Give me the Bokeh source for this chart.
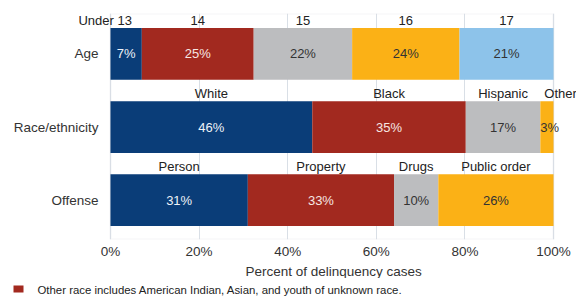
from bokeh.plotting import figure
from bokeh.models import (ColumnDataSource, LabelSet, FixedTicker, Range1d, Title, BoxAnnotation)
from bokeh.layouts import column
from bokeh.embed import file_html
from bokeh.resources import INLINE
from bokeh.core.properties import value

# ---------------- data ----------------
groups = ["Age", "Race/ethnicity", "Offense"]

age_labels = ["Under 13", "14", "15", "16", "17"]
age_values = [7, 25, 22, 24, 21]

race_labels = ["White", "Black", "Hispanic", "Other"]
race_values = [46, 35, 17, 3]

offense_labels = ["Person", "Property", "Drugs", "Public order"]
offense_values = [31, 33, 10, 26]

x_ticks = [0, 20, 40, 60, 80, 100]
x_tick_labels = ["0%", "20%", "40%", "60%", "80%", "100%"]
x_axis_title = "Percent of delinquency cases"
footnote = "Other race includes American Indian, Asian, and youth of unknown race."

# ---------------- style ----------------
palette = ["#0a3d78", "#a2291f", "#bcbdbf", "#fbb116", "#8dc3ea"]
text_on = ["#eef2f7", "#f6e6e2", "#333333", "#333333", "#333333"]
FONT = "Liberation Sans"
GRID = "#d9dfe6"
FS = "13px"
label_shift = {"Under 13": -21}

series = [(age_labels, age_values), (race_labels, race_values), (offense_labels, offense_values)]
ypos = {g: len(groups) - 1 - i for i, g in enumerate(groups)}

bars = dict(y=[], left=[], right=[], color=[])
cen = dict(x=[], y=[], ly=[], pct=[], name=[], tcolor=[], dx=[])
lft = dict(x=[], y=[], ly=[], pct=[], name=[])
for g, (labs, vals) in zip(groups, series):
    total = float(sum(vals))
    cum = 0
    for i, (lab, v) in enumerate(zip(labs, vals)):
        left = cum * 100.0 / total
        cum += v
        right = cum * 100.0 / total
        y = ypos[g]
        bars["y"].append(y); bars["left"].append(left); bars["right"].append(right)
        bars["color"].append(palette[i])
        if right - left < 5:
            lft["x"].append(left); lft["y"].append(y); lft["ly"].append(y + 0.455)
            lft["pct"].append(f"{v}%"); lft["name"].append(lab)
        else:
            cen["x"].append((left + right) / 2); cen["y"].append(y); cen["ly"].append(y + 0.455)
            cen["pct"].append(f"{v}%"); cen["name"].append(lab)
            cen["tcolor"].append(text_on[i]); cen["dx"].append(label_shift.get(lab, 0))

grp = dict(x=[0] * len(groups), y=[ypos[g] for g in groups], name=groups)

# frame spans the full width so in-row texts are not clipped; the 0..100 box sits at px 110..553
p = figure(width=576, height=278, x_range=Range1d(-24.83, 105.19), y_range=Range1d(-0.537, 2.551),
           output_backend="svg", toolbar_location=None,
           min_border_left=0, min_border_right=0, min_border_top=13, min_border_bottom=38)

p.hbar(y="y", left="left", right="right", height=0.707, color="color", line_color=None,
       source=ColumnDataSource(bars))

# box outline (top/bottom) for the 0..100 plotting area
p.add_layout(BoxAnnotation(left=0, right=100, fill_alpha=0, line_color=GRID, line_width=2,
                           level="underlay"))

src_c = ColumnDataSource(cen)
src_l = ColumnDataSource(lft)
p.add_layout(LabelSet(x="x", y="y", text="pct", source=src_c, text_align="center",
                      text_baseline="middle", text_font=value(FONT), text_font_size=FS,
                      text_color="tcolor"))
p.add_layout(LabelSet(x="x", y="ly", text="name", source=src_c, text_align="center",
                      x_offset="dx", text_baseline="middle", text_font=value(FONT),
                      text_font_size=FS, text_color="#222222"))
p.add_layout(LabelSet(x="x", y="y", text="pct", source=src_l, text_align="left", x_offset=0,
                      text_baseline="middle", text_font=value(FONT), text_font_size=FS,
                      text_color="#333333"))
p.add_layout(LabelSet(x="x", y="ly", text="name", source=src_l, text_align="left", x_offset=4,
                      text_baseline="middle", text_font=value(FONT), text_font_size=FS,
                      text_color="#222222"))
# group (row) labels
p.add_layout(LabelSet(x="x", y="y", text="name", source=ColumnDataSource(grp), text_align="right",
                      x_offset=-12, text_baseline="middle", text_font=value(FONT),
                      text_font_size="13.5px", text_color="#333333"))

# x axis
p.xaxis.ticker = FixedTicker(ticks=x_ticks)
p.xaxis.major_label_overrides = {t: l for t, l in zip(x_ticks, x_tick_labels)}
p.xaxis.axis_line_color = None
p.xaxis.major_tick_line_color = None
p.xaxis.minor_tick_line_color = None
p.xaxis.major_tick_out = 0
p.xaxis.major_tick_in = 0
p.xaxis.major_label_standoff = 4
p.xaxis.major_label_text_font = FONT
p.xaxis.major_label_text_font_size = "13.5px"
p.xaxis.major_label_text_color = "#333333"
p.yaxis.visible = False

p.add_layout(Title(text=x_axis_title, align="left", offset=245, standoff=0,
                   text_font=FONT, text_font_size="13.5px", text_font_style="normal",
                   text_color="#333333"), "below")

p.xgrid.ticker = FixedTicker(ticks=x_ticks)
p.xgrid.grid_line_color = GRID
p.ygrid.grid_line_color = None
p.outline_line_color = None
p.background_fill_color = "white"
p.border_fill_color = "white"

# footnote strip (pixel-mapped ranges)
note = figure(width=576, height=18, x_range=Range1d(0, 576), y_range=Range1d(18, 0),
              output_backend="svg", toolbar_location=None,
              min_border_left=0, min_border_right=0, min_border_top=0, min_border_bottom=0)
note.axis.visible = False
note.grid.grid_line_color = None
note.outline_line_color = None
note.rect(x=[18], y=[10.5], width=[10], height=[7], color=palette[1], line_color=None)
note.text(x=[37], y=[11], text=[footnote], text_baseline="middle", text_align="left",
          text_font=value(FONT), text_font_size="11.4px", text_color="#222222")

open("out.html", "w").write(file_html(column(p, note, spacing=0), INLINE))
